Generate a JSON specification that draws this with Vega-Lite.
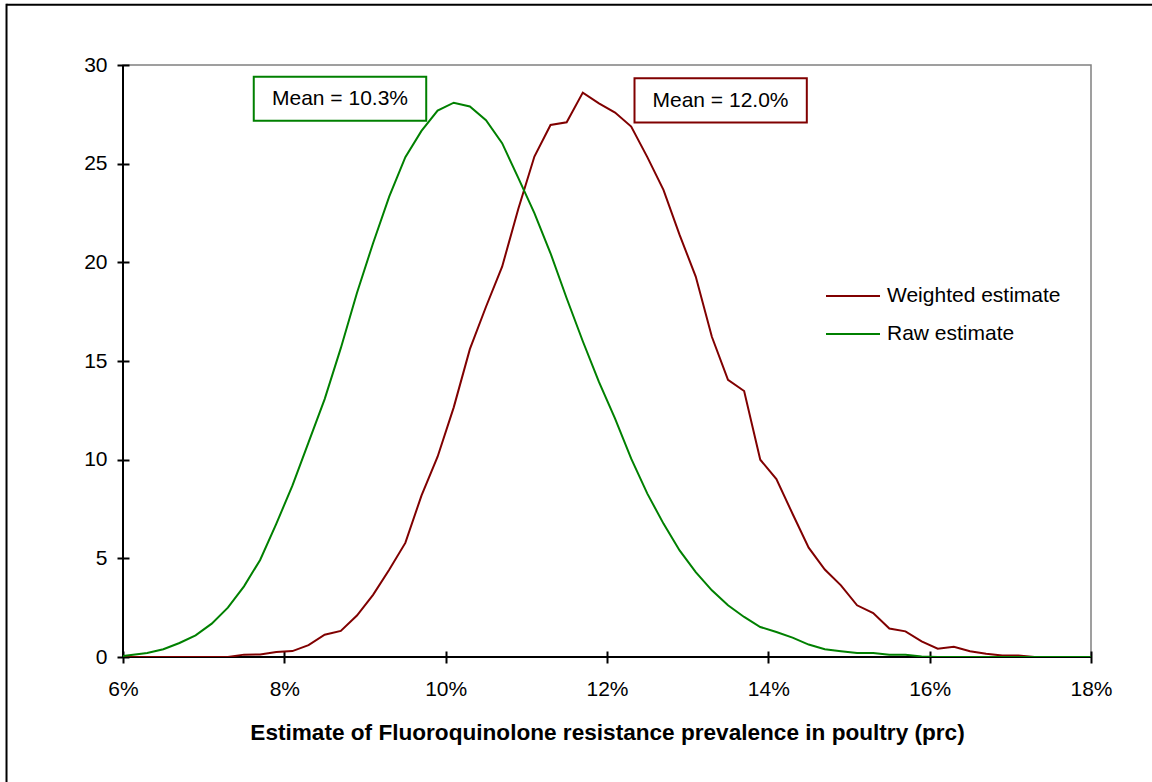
{
  "$schema": "https://vega.github.io/schema/vega-lite/v6.json",
  "width": 968,
  "height": 592,
  "autosize": {"type": "none"},
  "padding": {"left": 123, "top": 65, "right": 61, "bottom": 125},
  "background": "white",
  "config": {
    "view": {"stroke": "#808080", "strokeWidth": 1.5},
    "font": "Liberation Sans"
  },
  "datasets": {
    "curves": [
      {"p": 0.059, "value": 0, "series": "Weighted estimate"},
      {"p": 0.061, "value": 0, "series": "Weighted estimate"},
      {"p": 0.063, "value": 0, "series": "Weighted estimate"},
      {"p": 0.065, "value": 0, "series": "Weighted estimate"},
      {"p": 0.067, "value": 0, "series": "Weighted estimate"},
      {"p": 0.069, "value": 0, "series": "Weighted estimate"},
      {"p": 0.071, "value": 0, "series": "Weighted estimate"},
      {"p": 0.073, "value": 0, "series": "Weighted estimate"},
      {"p": 0.075, "value": 0.12, "series": "Weighted estimate"},
      {"p": 0.077, "value": 0.13, "series": "Weighted estimate"},
      {"p": 0.079, "value": 0.25, "series": "Weighted estimate"},
      {"p": 0.081, "value": 0.3, "series": "Weighted estimate"},
      {"p": 0.083, "value": 0.6, "series": "Weighted estimate"},
      {"p": 0.085, "value": 1.13, "series": "Weighted estimate"},
      {"p": 0.087, "value": 1.32, "series": "Weighted estimate"},
      {"p": 0.089, "value": 2.1, "series": "Weighted estimate"},
      {"p": 0.091, "value": 3.15, "series": "Weighted estimate"},
      {"p": 0.093, "value": 4.42, "series": "Weighted estimate"},
      {"p": 0.095, "value": 5.78, "series": "Weighted estimate"},
      {"p": 0.097, "value": 8.18, "series": "Weighted estimate"},
      {"p": 0.099, "value": 10.15, "series": "Weighted estimate"},
      {"p": 0.101, "value": 12.65, "series": "Weighted estimate"},
      {"p": 0.103, "value": 15.6, "series": "Weighted estimate"},
      {"p": 0.105, "value": 17.75, "series": "Weighted estimate"},
      {"p": 0.107, "value": 19.78, "series": "Weighted estimate"},
      {"p": 0.109, "value": 22.7, "series": "Weighted estimate"},
      {"p": 0.111, "value": 25.36, "series": "Weighted estimate"},
      {"p": 0.113, "value": 26.96, "series": "Weighted estimate"},
      {"p": 0.115, "value": 27.1, "series": "Weighted estimate"},
      {"p": 0.117, "value": 28.6, "series": "Weighted estimate"},
      {"p": 0.119, "value": 28.06, "series": "Weighted estimate"},
      {"p": 0.121, "value": 27.59, "series": "Weighted estimate"},
      {"p": 0.123, "value": 26.88, "series": "Weighted estimate"},
      {"p": 0.125, "value": 25.33, "series": "Weighted estimate"},
      {"p": 0.127, "value": 23.67, "series": "Weighted estimate"},
      {"p": 0.129, "value": 21.39, "series": "Weighted estimate"},
      {"p": 0.131, "value": 19.28, "series": "Weighted estimate"},
      {"p": 0.133, "value": 16.23, "series": "Weighted estimate"},
      {"p": 0.135, "value": 14.05, "series": "Weighted estimate"},
      {"p": 0.137, "value": 13.48, "series": "Weighted estimate"},
      {"p": 0.139, "value": 10.0, "series": "Weighted estimate"},
      {"p": 0.141, "value": 9.02, "series": "Weighted estimate"},
      {"p": 0.143, "value": 7.26, "series": "Weighted estimate"},
      {"p": 0.145, "value": 5.54, "series": "Weighted estimate"},
      {"p": 0.147, "value": 4.43, "series": "Weighted estimate"},
      {"p": 0.149, "value": 3.63, "series": "Weighted estimate"},
      {"p": 0.151, "value": 2.62, "series": "Weighted estimate"},
      {"p": 0.153, "value": 2.23, "series": "Weighted estimate"},
      {"p": 0.155, "value": 1.44, "series": "Weighted estimate"},
      {"p": 0.157, "value": 1.3, "series": "Weighted estimate"},
      {"p": 0.159, "value": 0.79, "series": "Weighted estimate"},
      {"p": 0.161, "value": 0.42, "series": "Weighted estimate"},
      {"p": 0.163, "value": 0.52, "series": "Weighted estimate"},
      {"p": 0.165, "value": 0.29, "series": "Weighted estimate"},
      {"p": 0.167, "value": 0.17, "series": "Weighted estimate"},
      {"p": 0.169, "value": 0.08, "series": "Weighted estimate"},
      {"p": 0.171, "value": 0.08, "series": "Weighted estimate"},
      {"p": 0.173, "value": 0, "series": "Weighted estimate"},
      {"p": 0.175, "value": 0, "series": "Weighted estimate"},
      {"p": 0.177, "value": 0, "series": "Weighted estimate"},
      {"p": 0.179, "value": 0, "series": "Weighted estimate"},
      {"p": 0.181, "value": 0, "series": "Weighted estimate"},
      {"p": 0.059, "value": 0, "series": "Raw estimate"},
      {"p": 0.061, "value": 0.1, "series": "Raw estimate"},
      {"p": 0.063, "value": 0.2, "series": "Raw estimate"},
      {"p": 0.065, "value": 0.39, "series": "Raw estimate"},
      {"p": 0.067, "value": 0.71, "series": "Raw estimate"},
      {"p": 0.069, "value": 1.1, "series": "Raw estimate"},
      {"p": 0.071, "value": 1.69, "series": "Raw estimate"},
      {"p": 0.073, "value": 2.5, "series": "Raw estimate"},
      {"p": 0.075, "value": 3.58, "series": "Raw estimate"},
      {"p": 0.077, "value": 4.92, "series": "Raw estimate"},
      {"p": 0.079, "value": 6.75, "series": "Raw estimate"},
      {"p": 0.081, "value": 8.68, "series": "Raw estimate"},
      {"p": 0.083, "value": 10.88, "series": "Raw estimate"},
      {"p": 0.085, "value": 13.07, "series": "Raw estimate"},
      {"p": 0.087, "value": 15.65, "series": "Raw estimate"},
      {"p": 0.089, "value": 18.45, "series": "Raw estimate"},
      {"p": 0.091, "value": 20.97, "series": "Raw estimate"},
      {"p": 0.093, "value": 23.33, "series": "Raw estimate"},
      {"p": 0.095, "value": 25.33, "series": "Raw estimate"},
      {"p": 0.097, "value": 26.66, "series": "Raw estimate"},
      {"p": 0.099, "value": 27.69, "series": "Raw estimate"},
      {"p": 0.101, "value": 28.09, "series": "Raw estimate"},
      {"p": 0.103, "value": 27.9, "series": "Raw estimate"},
      {"p": 0.105, "value": 27.2, "series": "Raw estimate"},
      {"p": 0.107, "value": 26.04, "series": "Raw estimate"},
      {"p": 0.109, "value": 24.28, "series": "Raw estimate"},
      {"p": 0.111, "value": 22.49, "series": "Raw estimate"},
      {"p": 0.113, "value": 20.46, "series": "Raw estimate"},
      {"p": 0.115, "value": 18.18, "series": "Raw estimate"},
      {"p": 0.117, "value": 16.0, "series": "Raw estimate"},
      {"p": 0.119, "value": 13.94, "series": "Raw estimate"},
      {"p": 0.121, "value": 12.08, "series": "Raw estimate"},
      {"p": 0.123, "value": 10.05, "series": "Raw estimate"},
      {"p": 0.125, "value": 8.28, "series": "Raw estimate"},
      {"p": 0.127, "value": 6.76, "series": "Raw estimate"},
      {"p": 0.129, "value": 5.4, "series": "Raw estimate"},
      {"p": 0.131, "value": 4.3, "series": "Raw estimate"},
      {"p": 0.133, "value": 3.38, "series": "Raw estimate"},
      {"p": 0.135, "value": 2.62, "series": "Raw estimate"},
      {"p": 0.137, "value": 2.03, "series": "Raw estimate"},
      {"p": 0.139, "value": 1.52, "series": "Raw estimate"},
      {"p": 0.141, "value": 1.27, "series": "Raw estimate"},
      {"p": 0.143, "value": 0.98, "series": "Raw estimate"},
      {"p": 0.145, "value": 0.63, "series": "Raw estimate"},
      {"p": 0.147, "value": 0.39, "series": "Raw estimate"},
      {"p": 0.149, "value": 0.29, "series": "Raw estimate"},
      {"p": 0.151, "value": 0.2, "series": "Raw estimate"},
      {"p": 0.153, "value": 0.2, "series": "Raw estimate"},
      {"p": 0.155, "value": 0.12, "series": "Raw estimate"},
      {"p": 0.157, "value": 0.12, "series": "Raw estimate"},
      {"p": 0.159, "value": 0.03, "series": "Raw estimate"},
      {"p": 0.161, "value": 0, "series": "Raw estimate"},
      {"p": 0.163, "value": 0, "series": "Raw estimate"},
      {"p": 0.165, "value": 0, "series": "Raw estimate"},
      {"p": 0.167, "value": 0, "series": "Raw estimate"},
      {"p": 0.169, "value": 0, "series": "Raw estimate"},
      {"p": 0.171, "value": 0, "series": "Raw estimate"},
      {"p": 0.173, "value": 0, "series": "Raw estimate"},
      {"p": 0.175, "value": 0, "series": "Raw estimate"},
      {"p": 0.177, "value": 0, "series": "Raw estimate"},
      {"p": 0.179, "value": 0, "series": "Raw estimate"},
      {"p": 0.181, "value": 0, "series": "Raw estimate"}
    ]
  },
  "layer": [
    {
      "data": {"values": [{}]},
      "mark": {"type": "rule", "stroke": "black", "strokeWidth": 2},
      "encoding": {
        "x": {"datum": 0.04556, "type": "quantitative", "scale": {"domain": [0.06, 0.18], "nice": false, "zero": false}},
        "x2": {"datum": 0.3},
        "y": {"datum": 33.05, "type": "quantitative", "scale": {"domain": [0, 30], "nice": false}}
      }
    },
    {
      "data": {"values": [{}]},
      "mark": {"type": "rule", "stroke": "black", "strokeWidth": 2},
      "encoding": {
        "x": {"datum": 0.04556, "type": "quantitative", "scale": {"domain": [0.06, 0.18], "nice": false, "zero": false}},
        "y": {"datum": 33.1, "type": "quantitative", "scale": {"domain": [0, 30], "nice": false}},
        "y2": {"datum": -20}
      }
    },
    {
      "data": {"values": [{}]},
      "mark": {"type": "rule", "stroke": "black", "strokeWidth": 2},
      "encoding": {
        "x": {"datum": 0.06, "type": "quantitative", "scale": {"domain": [0.06, 0.18], "nice": false, "zero": false}},
        "y": {"datum": 0, "type": "quantitative", "scale": {"domain": [0, 30], "nice": false}},
        "y2": {"datum": 30}
      }
    },
    {
      "data": {"values": [{}]},
      "mark": {"type": "rule", "stroke": "black", "strokeWidth": 2},
      "encoding": {
        "x": {"datum": 0.06, "type": "quantitative", "scale": {"domain": [0.06, 0.18], "nice": false, "zero": false}},
        "x2": {"datum": 0.18},
        "y": {"datum": 0, "type": "quantitative", "scale": {"domain": [0, 30], "nice": false}}
      }
    },
    {
      "data": {"values": [{}]},
      "mark": {"type": "rect", "fill": "white", "stroke": "#008000", "strokeWidth": 2},
      "encoding": {
        "x": {"datum": 0.07621, "type": "quantitative", "scale": {"domain": [0.06, 0.18], "nice": false, "zero": false}},
        "x2": {"datum": 0.09759},
        "y": {"datum": 29.41, "type": "quantitative", "scale": {"domain": [0, 30], "nice": false}},
        "y2": {"datum": 27.18}
      }
    },
    {
      "data": {"values": [{}]},
      "mark": {"type": "rect", "fill": "white", "stroke": "#800000", "strokeWidth": 2},
      "encoding": {
        "x": {"datum": 0.12341, "type": "quantitative", "scale": {"domain": [0.06, 0.18], "nice": false, "zero": false}},
        "x2": {"datum": 0.14477},
        "y": {"datum": 29.33, "type": "quantitative", "scale": {"domain": [0, 30], "nice": false}},
        "y2": {"datum": 27.08}
      }
    },
    {
      "data": {"values": [{}]},
      "mark": {"type": "text", "font": "Liberation Sans", "fontSize": 21, "color": "black", "align": "center", "baseline": "middle"},
      "encoding": {
        "x": {"datum": 0.0869, "type": "quantitative", "scale": {"domain": [0.06, 0.18], "nice": false, "zero": false}},
        "y": {"datum": 28.3, "type": "quantitative", "scale": {"domain": [0, 30], "nice": false}},
        "text": {"value": "Mean = 10.3%"}
      }
    },
    {
      "data": {"values": [{}]},
      "mark": {"type": "text", "font": "Liberation Sans", "fontSize": 21, "color": "black", "align": "center", "baseline": "middle"},
      "encoding": {
        "x": {"datum": 0.13407, "type": "quantitative", "scale": {"domain": [0.06, 0.18], "nice": false, "zero": false}},
        "y": {"datum": 28.2, "type": "quantitative", "scale": {"domain": [0, 30], "nice": false}},
        "text": {"value": "Mean = 12.0%"}
      }
    },
    {
      "data": {"name": "curves"},
      "mark": {"type": "line", "strokeWidth": 2, "clip": true},
      "encoding": {
        "x": {
          "field": "p", "type": "quantitative",
          "scale": {"domain": [0.06, 0.18], "nice": false, "zero": false},
          "axis": {
            "values": [0.06, 0.08, 0.1, 0.12, 0.14, 0.16, 0.18],
            "format": ".0%",
            "offset": -6, "tickSize": 12, "tickWidth": 2, "tickColor": "black",
            "domain": false, "grid": false,
            "labelFont": "Liberation Sans", "labelFontSize": 21, "labelColor": "black",
            "labelPadding": 15, "labelFlush": false, "labelOverlap": false,
            "title": "Estimate of Fluoroquinolone resistance prevalence in poultry (prc)",
            "titleFont": "Liberation Sans", "titleFontSize": 22.6, "titleFontWeight": "bold",
            "titleColor": "black", "titleY": 88, "titleBaseline": "alphabetic"
          }
        },
        "y": {
          "field": "value", "type": "quantitative",
          "scale": {"domain": [0, 30], "nice": false},
          "axis": {
            "values": [0, 5, 10, 15, 20, 25, 30],
            "offset": -6, "tickSize": 12, "tickWidth": 2, "tickColor": "black",
            "domain": false, "grid": false,
            "labelFont": "Liberation Sans", "labelFontSize": 21, "labelColor": "black",
            "labelPadding": 10, "labelFlush": false, "labelOverlap": false,
            "title": null
          }
        },
        "color": {
          "field": "series", "type": "nominal",
          "scale": {"domain": ["Weighted estimate", "Raw estimate"], "range": ["#800000", "#008000"]},
          "legend": {
            "orient": "none", "legendX": 702, "legendY": 203,
            "title": null, "symbolType": "stroke", "symbolSize": 2916, "symbolStrokeWidth": 2,
            "labelFont": "Liberation Sans", "labelFontSize": 21, "labelColor": "black",
            "labelOffset": 6, "labelLimit": 400, "padding": 0, "rowPadding": 0
          }
        }
      }
    }
  ]
}
